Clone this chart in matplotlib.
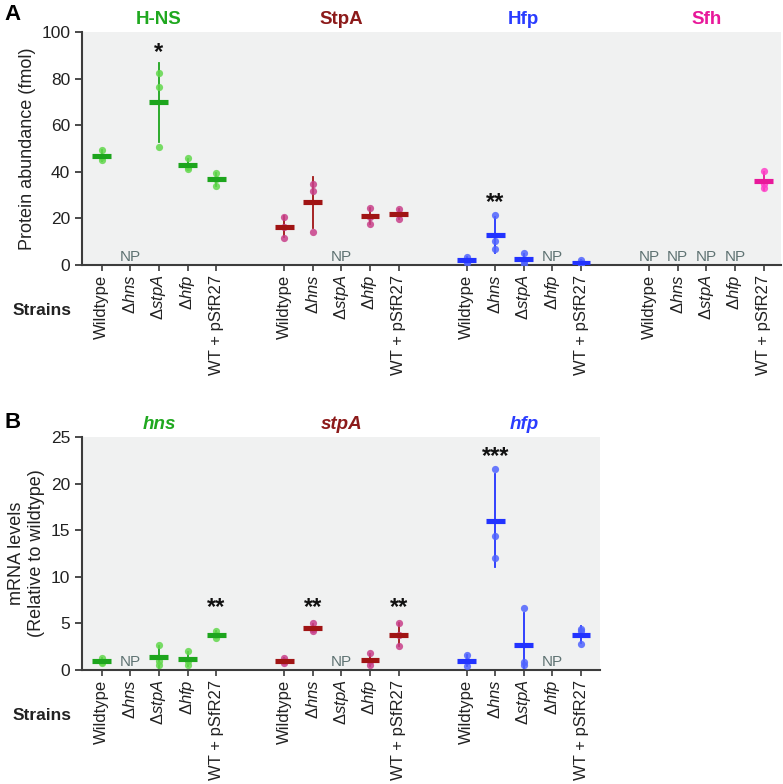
import numpy as np
import matplotlib
matplotlib.use("Agg")
import matplotlib.pyplot as plt

plt.rcParams['font.family'] = ['Liberation Sans', 'DejaVu Sans']
plt.rcParams['mathtext.fontset'] = 'custom'
plt.rcParams['mathtext.rm'] = 'Liberation Sans'
plt.rcParams['mathtext.it'] = 'Liberation Sans:italic'
plt.rcParams['mathtext.bf'] = 'Liberation Sans:bold'

# strains on the x axis
strains = ['Wildtype', r'$\mathrm{\Delta}\mathit{hns}$', r'$\mathrm{\Delta}\mathit{stpA}$',
           r'$\mathrm{\Delta}\mathit{hfp}$', 'WT + pSfR27']

# panel A: protein abundance (fmol), three replicates, None = not present
groups_A = ['H-NS', 'StpA', 'Hfp', 'Sfh']
hns_prot = [[49.5, 46.5, 45.0], None, [82.5, 76.5, 50.6], [45.8, 42.0, 41.3], [39.6, 36.8, 34.0]]
stpa_prot = [[20.8, 16.5, 11.8], [34.8, 31.7, 14.3], None, [24.5, 20.6, 17.8], [24.0, 21.8, 19.8]]
hfp_prot = [[3.4, 1.6, 0.8], [21.5, 10.5, 6.9], [5.0, 1.9, 0.3], None, [2.2, 0.7, 0.1]]
sfh_prot = [None, None, None, None, [40.5, 34.6, 33.2]]
stars_A = [(0, 2, 88.5, '*'), (2, 1, 24.0, '**')]

# panel B: mRNA levels relative to wildtype
groups_B = ['hns', 'stpA', 'hfp']
hns_mrna = [[1.3, 0.9, 0.8], None, [2.7, 1.0, 0.5], [2.0, 1.0, 0.5], [4.2, 3.8, 3.4]]
stpa_mrna = [[1.25, 1.0, 0.75], [5.0, 4.4, 4.2], None, [1.8, 1.0, 0.5], [5.0, 3.8, 2.6]]
hfp_mrna = [[1.6, 1.0, 0.4], [21.6, 14.4, 12.0], [6.7, 0.9, 0.5], None, [4.4, 4.2, 2.8]]
stars_B = [(0, 4, 6.0, '**'), (1, 1, 6.0, '**'), (1, 4, 6.0, '**'), (2, 1, 22.2, '***')]

title_cols = ['#1fa81f', '#8c1a1a', '#2a3cff', '#e8189a']
bar_cols = ['#1da51d', '#a01414', '#2233ff', '#e8189a']
dot_cols = ['#62d84c', '#c8408a', '#5064ff', '#ff40c8']
np_col = '#5f7373'
bg = '#f0f1f1'
spine_col = '#3c3c3c'

gap = 6.38


def draw_panel(ax, data, groups, stars, ymax, yticks, np_y, italic):
    ax.set_facecolor(bg)
    pos_all = []
    for g, series in enumerate(data):
        for i, vals in enumerate(series):
            x = g * gap + i
            pos_all.append(x)
            if vals is None:
                ax.text(x, np_y, 'NP', color=np_col, fontsize=11, ha='center', va='center')
                continue
            v = np.array(vals)
            m, sd = v.mean(), v.std(ddof=1)
            ax.plot([x, x], [m - sd, m + sd], color=bar_cols[g], lw=1.3, zorder=2)
            ax.plot(np.full(len(v), x), v, 'o', color=dot_cols[g], ms=5.2, alpha=0.85,
                    mec='none', zorder=3)
            ax.plot([x - 0.33, x + 0.33], [m, m], color=bar_cols[g], lw=3.7,
                    solid_capstyle='butt', zorder=4)
        ax.annotate(groups[g], xy=(g * gap + 2, 1), xycoords=('data', 'axes fraction'),
                    xytext=(0, 9), textcoords='offset points', ha='center', va='center',
                    fontsize=13.5, fontweight='bold', color=title_cols[g],
                    style='italic' if italic else 'normal')
    for g, i, y, s in stars:
        ax.text(g * gap + i, y, s, ha='center', va='baseline', fontsize=17,
                fontweight='bold', color='#111111')
    ax.set_xticks(pos_all)
    ax.set_xticklabels(strains * len(data), rotation=90, fontsize=12, color='#222222')
    ax.set_ylim(0, ymax)
    ax.set_yticks(yticks)
    ax.tick_params(axis='y', labelsize=12.5, colors='#222222', length=5, width=1.3,
                   color=spine_col)
    ax.tick_params(axis='x', length=4, width=1.2, color=spine_col, pad=3)
    for s in ['top', 'right']:
        ax.spines[s].set_visible(False)
    for s in ['left', 'bottom']:
        ax.spines[s].set_color(spine_col)
        ax.spines[s].set_linewidth(1.5)


fig = plt.figure(figsize=(7.83, 7.84), dpi=100)

axA = fig.add_axes([0.1047, 0.662, 0.8927, 0.297])
draw_panel(axA, [hns_prot, stpa_prot, hfp_prot, sfh_prot], groups_A, stars_A, 100,
           [0, 20, 40, 60, 80, 100], 3.6, False)
axA.set_xlim(-0.69, 23.75)
axA.set_ylabel('Protein abundance (fmol)', fontsize=13, color='#222222')
axA.yaxis.set_label_coords(-0.066, 0.5)

axB = fig.add_axes([0.1047, 0.1454, 0.6615, 0.2972])
draw_panel(axB, [hns_mrna, stpa_mrna, hfp_mrna], groups_B, stars_B, 25,
           [0, 5, 10, 15, 20, 25], 0.9, True)
axB.set_xlim(-0.69, 17.42)
axB.set_ylabel('mRNA levels\n(Relative to wildtype)', fontsize=13, color='#222222',
               linespacing=1.25)
axB.yaxis.set_label_coords(-0.071, 0.5)

fig.text(4 / 783, 1 - 14 / 784, 'A', fontsize=16, fontweight='bold', va='center')
fig.text(4 / 783, 1 - 423 / 784, 'B', fontsize=16, fontweight='bold', va='center')
fig.text(42 / 783, 1 - 311 / 784, 'Strains', fontsize=12.5, fontweight='bold',
         ha='center', va='center', color='#222222')
fig.text(42 / 783, 1 - 715 / 784, 'Strains', fontsize=12.5, fontweight='bold',
         ha='center', va='center', color='#222222')

fig.savefig('out.png', dpi=100)
